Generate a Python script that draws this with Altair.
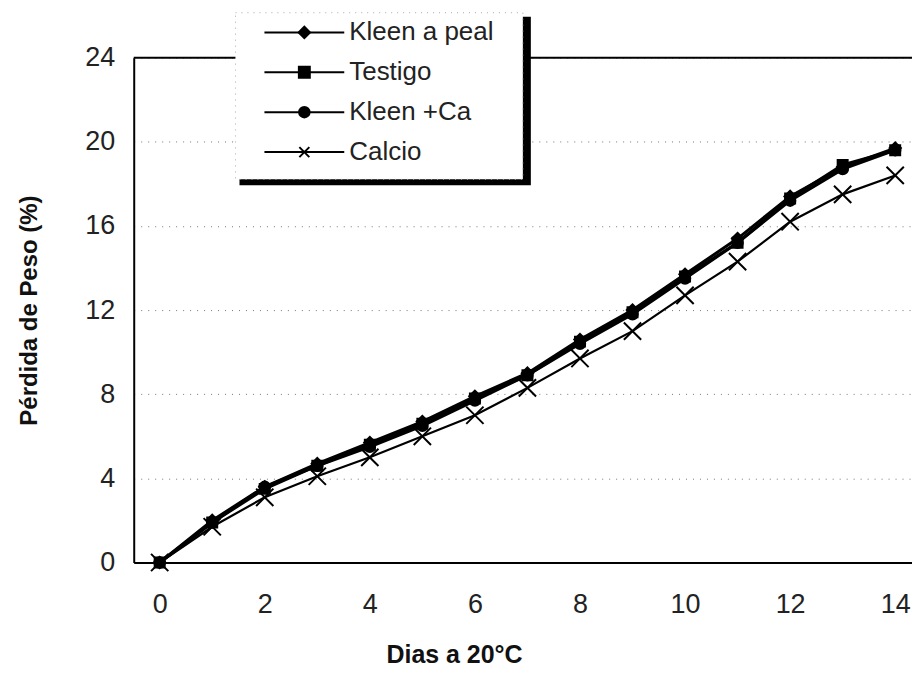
import altair as alt
import pandas as pd

days = list(range(15))
series_names = ["Kleen a peal", "Testigo", "Kleen +Ca", "Calcio"]
kleen_peal = [0, 2.0, 3.6, 4.7, 5.7, 6.7, 7.9, 9.0, 10.6, 12.0, 13.7, 15.4, 17.4, 18.8, 19.7]
testigo = [0, 1.9, 3.5, 4.6, 5.6, 6.6, 7.8, 8.9, 10.5, 11.9, 13.6, 15.2, 17.3, 18.9, 19.6]
kleen_ca = [0, 1.9, 3.6, 4.6, 5.5, 6.5, 7.7, 8.9, 10.4, 11.8, 13.5, 15.2, 17.2, 18.7, 19.6]
calcio = [0, 1.7, 3.1, 4.1, 5.0, 6.0, 7.0, 8.3, 9.7, 11.0, 12.7, 14.3, 16.2, 17.5, 18.4]
x_ticks = [0, 2, 4, 6, 8, 10, 12, 14]
y_ticks = [0, 4, 8, 12, 16, 20, 24]

rows = []
for name, vals in zip(series_names, [kleen_peal, testigo, kleen_ca, calcio]):
    for d, v in zip(days, vals):
        rows.append({"dia": d, "perdida": v, "serie": name})
df = pd.DataFrame(rows)
leg_df = pd.DataFrame({"serie": series_names})

FONT = "Liberation Sans"
x_scale = alt.Scale(domain=[-0.494, 14.32], nice=False, zero=False)
y_scale = alt.Scale(domain=[0, 24], nice=False)
x_enc = alt.X("dia:Q", scale=x_scale,
              axis=alt.Axis(values=x_ticks, grid=False, ticks=False, domainColor="black",
                            domainWidth=2, labelFontSize=27, labelPadding=29, labelColor="#222",
                            labelFont=FONT, title="Dias a 20°C", titleFont=FONT,
                            titleFontSize=25, titleFontWeight="bold", titleColor="#111",
                            titleX=321, titleY=92, titleAlign="center", titleBaseline="middle"))
y_enc = alt.Y("perdida:Q", scale=y_scale,
              axis=alt.Axis(values=y_ticks, grid=True, gridDash=[1, 6], gridColor="#777",
                            gridWidth=1, ticks=False, domainColor="black", domainWidth=2,
                            labelFontSize=27, labelPadding=19, labelColor="#222", labelFont=FONT,
                            title="Pérdida de Peso (%)", titleFont=FONT, titleFontSize=24,
                            titleFontWeight="bold", titleColor="#111", titleAngle=270,
                            titleX=-104, titleY=253, titleAlign="center", titleBaseline="middle"))

base = alt.Chart(df)

lines_k = base.transform_filter(alt.datum.serie != "Calcio").mark_line(
    color="black", strokeWidth=3).encode(x=x_enc, y=y_enc, detail="serie:N")
lines_c = base.transform_filter(alt.datum.serie == "Calcio").mark_line(
    color="black", strokeWidth=2.2).encode(x=x_enc, y=y_enc)

plot_shapes = ["diamond", "square", "circle", "M-1,-1L1,1M-1,1L1,-1"]
plot_sizes = [130, 100, 110, 300]
point_layers = []
for name, shp, sz in zip(series_names, plot_shapes, plot_sizes):
    point_layers.append(
        base.transform_filter(alt.datum.serie == name).mark_point(
            shape=shp, fill="black", stroke="black", strokeWidth=2, opacity=1, size=sz
        ).encode(x=x_enc, y=y_enc)
    )

top_rule = alt.Chart(pd.DataFrame({"v": [24]})).mark_rule(color="black", strokeWidth=2).encode(
    y=alt.datum(24))

main = alt.layer(lines_k, lines_c, *point_layers, top_rule)

# legend drawn as marks
leg_y = alt.Y("serie:N", sort=series_names, axis=None,
              scale=alt.Scale(type="point", domain=series_names, range=[-25.3, 94.7], padding=0))
leg_base = alt.Chart(leg_df)
leg_rule = leg_base.mark_rule(color="black", strokeWidth=2).encode(
    y=leg_y, x=alt.value(131), x2=alt.value(211))
leg_pts = leg_base.mark_point(fill="black", stroke="black", strokeWidth=2, opacity=1).encode(
    y=leg_y, x=alt.value(171),
    shape=alt.Shape("serie:N", scale=alt.Scale(domain=series_names, range=plot_shapes), legend=None),
    size=alt.Size("serie:N", scale=alt.Scale(domain=series_names, range=plot_sizes), legend=None),
)
leg_txt = leg_base.mark_text(align="left", baseline="middle", font=FONT, fontSize=26,
                             color="#222").encode(y=leg_y, x=alt.value(216), text="serie:N")
legend = alt.layer(leg_rule, leg_pts, leg_txt)

box_df = pd.DataFrame({"k": [0]})
shadow = alt.Chart(box_df).mark_rect(color="black").encode(
    x=alt.value(106), x2=alt.value(398), y=alt.value(-41), y2=alt.value(128))
box = alt.Chart(box_df).mark_rect(fill="white", stroke="#aaa", strokeDash=[1, 5], strokeWidth=1).encode(
    x=alt.value(102), x2=alt.value(390), y=alt.value(-45), y2=alt.value(122))

chart = alt.layer(main, shadow, box, legend).resolve_scale(
    y="independent", shape="independent", size="independent"
).properties(
    width=780, height=506,
    autosize=alt.AutoSizeParams(type="none"),
    padding={"left": 126, "top": 49, "right": 0, "bottom": 115},
    background="white",
).configure_view(stroke=None)

chart.save("out.html", embed_options={"renderer": "svg", "actions": False})
